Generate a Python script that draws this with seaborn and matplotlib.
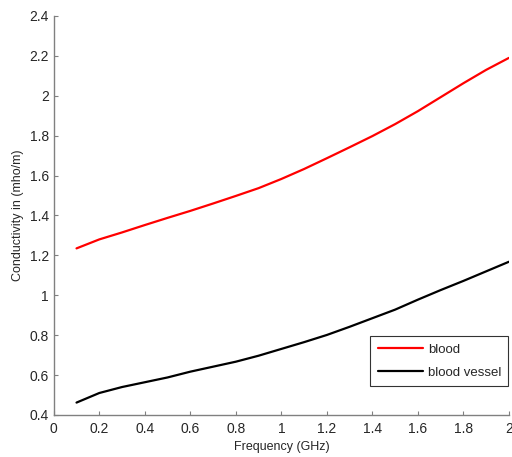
import numpy as np
import pandas as pd
import matplotlib
matplotlib.use('Agg')
import matplotlib.pyplot as plt
import seaborn as sb

freq = [0.1, 0.2, 0.3, 0.4, 0.5, 0.6, 0.7, 0.8, 0.9, 1.0,
        1.1, 1.2, 1.3, 1.4, 1.5, 1.6, 1.7, 1.8, 1.9, 2.0]
blood = [1.235, 1.28, 1.315, 1.352, 1.388, 1.423, 1.46, 1.498, 1.537, 1.583,
         1.633, 1.687, 1.742, 1.798, 1.858, 1.923, 1.993, 2.063, 2.13, 2.19]
vessel = [0.462, 0.51, 0.54, 0.564, 0.588, 0.617, 0.642, 0.667, 0.697, 0.731,
          0.765, 0.801, 0.842, 0.885, 0.928, 0.978, 1.026, 1.072, 1.12, 1.168]
xticks = [0, 0.2, 0.4, 0.6, 0.8, 1, 1.2, 1.4, 1.6, 1.8, 2]
yticks = [0.4, 0.6, 0.8, 1, 1.2, 1.4, 1.6, 1.8, 2, 2.2, 2.4]

sb.set_style('ticks')
plt.rcParams['font.family'] = ['Liberation Sans', 'DejaVu Sans']

df = pd.DataFrame({'f': freq, 'blood': blood, 'blood vessel': vessel})
df = df.melt(id_vars='f', var_name='tissue', value_name='cond')

fig = plt.figure(figsize=(5.12, 4.57), dpi=100)
ax = fig.add_axes([0.105, 0.092, 0.889, 0.873])
sb.lineplot(data=df, x='f', y='cond', hue='tissue', ax=ax,
            palette={'blood': 'red', 'blood vessel': 'black'}, linewidth=1.6)

ax.set_xlim(0, 2)
ax.set_ylim(0.4, 2.4)
ax.set_xticks(xticks)
ax.set_xticklabels([f'{t:g}' for t in xticks])
ax.set_yticks(yticks)
ax.set_yticklabels([f'{t:g}' for t in yticks])
ax.tick_params(direction='in', length=3, labelsize=10, color='#808080', width=0.8)
ax.tick_params(axis='x', pad=5)
for s in ['top', 'right']:
    ax.spines[s].set_visible(False)
for s in ['left', 'bottom']:
    ax.spines[s].set_color('#808080')
    ax.spines[s].set_linewidth(1.0)
ax.set_xlabel('Frequency (GHz)', fontsize=9, labelpad=4)
ax.set_ylabel('Conductivity in (mho/m)', fontsize=9, labelpad=4)

leg = ax.legend(loc='lower right', bbox_to_anchor=(0.999, 0.0725), fontsize=9.5,
                frameon=True, fancybox=False, handlelength=3.4, borderpad=0.55,
                labelspacing=0.8, handletextpad=0.4, borderaxespad=0)
leg.get_frame().set_edgecolor('black')
leg.get_frame().set_linewidth(0.8)
leg.set_title(None)

fig.savefig('out.png', dpi=100)
